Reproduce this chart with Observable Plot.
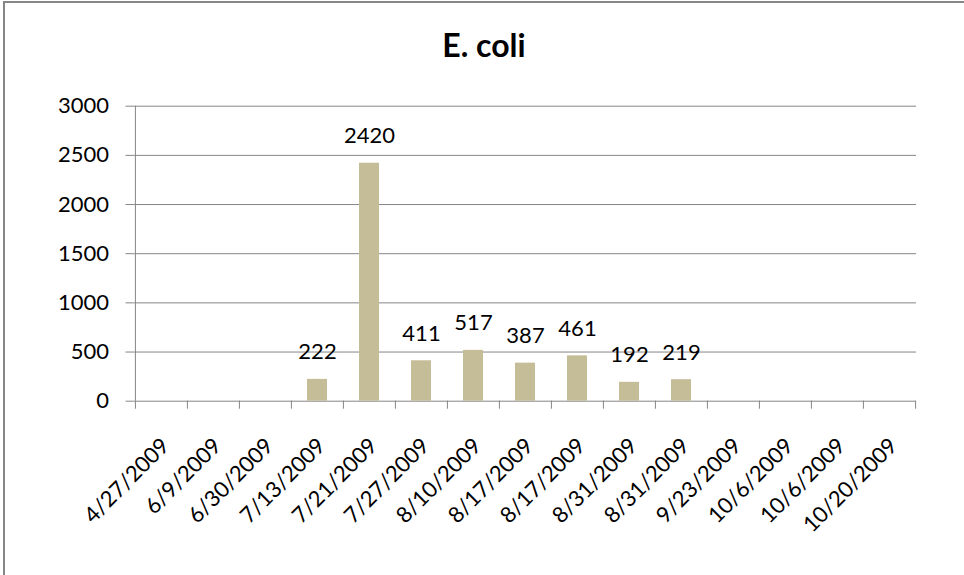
<!DOCTYPE html>
<html><head><meta charset="utf-8">
<script src="https://cdn.jsdelivr.net/npm/d3@7"></script>
<script src="https://cdn.jsdelivr.net/npm/@observablehq/plot@0.6"></script>
<style>
body{margin:0;background:#fff;font-family:Lato,sans-serif;}
#wrap{position:relative;width:964px;height:575px;overflow:hidden;background:#fff;}
#border{position:absolute;left:3px;top:1px;width:1200px;height:1200px;border-left:2px solid #878787;border-top:2px solid #878787;}
#title{position:relative;height:50px;padding-top:30px;text-align:center;font:bold 32px/30px Lato,sans-serif;color:#000;padding-left:4px;}
#chart{position:relative;}
</style></head><body>
<div id="wrap"><div id="border"></div><div id="title">E. coli</div><div id="chart"></div></div>
<script>
const dates = ["4/27/2009","6/9/2009","6/30/2009","7/13/2009","7/21/2009","7/27/2009","8/10/2009","8/17/2009","8/17/2009","8/31/2009","8/31/2009","9/23/2009","10/6/2009","10/6/2009","10/20/2009"];
const ecoli = [null,null,null,222,2420,411,517,387,461,192,219,null,null,null,null];
const yTicks = [0,500,1000,1500,2000,2500,3000];

const rows = dates.map((d,i)=>({key:i, label:d, value:ecoli[i]}));
const bars = rows.filter(r=>r.value!=null);
const W=964,H=495,mL=133.5,mR=48,mT=25.7,mB=174.3;
const step=(W-mL-mR)/dates.length;
const gray="#868686";
const chart = Plot.plot({
  width:W,height:H,marginLeft:mL,marginRight:mR,marginTop:mT,marginBottom:mB,
  style:{fontFamily:"Lato, sans-serif",fontSize:"22px",color:"#000",background:"transparent",overflow:"visible"},
  x:{type:"band",domain:rows.map(r=>r.key),paddingInner:0.61,paddingOuter:0.305,axis:null},
  y:{domain:[0,3000],axis:null},
  marks:[
    Plot.gridY(yTicks.slice(1),{stroke:gray,strokeOpacity:1,strokeWidth:1}),
    Plot.ruleX([rows[0]],{x:"key",y1:0,y2:3000,dx:-step/2,stroke:gray,strokeWidth:1}),
    Plot.ruleY([0],{stroke:gray,strokeWidth:1}),
    Plot.ruleX(rows,{x:"key",y1:0,y2:0,dx:-step/2,insetBottom:-8,stroke:gray,strokeWidth:1}),
    Plot.ruleX([rows[rows.length-1]],{x:"key",y1:0,y2:0,dx:step/2,insetBottom:-8,stroke:gray,strokeWidth:1}),
    Plot.axisY(yTicks,{label:null,tickFormat:d=>String(d),tickSize:8,tickPadding:17,stroke:gray,fill:"#000",fontSize:22}),
    Plot.barY(bars,{x:"key",y:"value",fill:"#C4BD97"}),
    Plot.text(bars,{x:"key",y:"value",text:d=>String(d.value),lineAnchor:"bottom",dy:-20,fontSize:22,fill:"#000"}),
    Plot.text(rows,{x:"key",y:0,text:"label",rotate:-45,textAnchor:"end",lineAnchor:"top",dx:-2,dy:35,fontSize:22,fill:"#000"})
  ]
});
document.getElementById("chart").appendChild(chart);
</script>
</body></html>
